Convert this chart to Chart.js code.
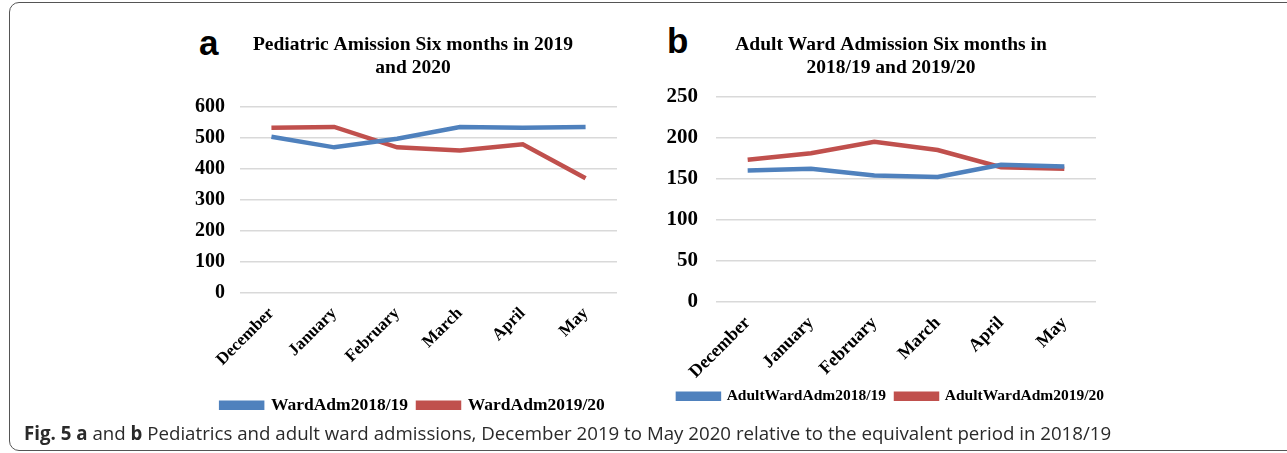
<!DOCTYPE html>
<html>
<head>
<meta charset="utf-8">
<script src="https://cdn.jsdelivr.net/npm/chart.js@4"></script>
<style>
  body { margin: 0; background: #fff; width: 1287px; height: 453px; overflow: hidden; position: relative; }
  .frame { position: absolute; left: 9px; top: 2px; width: 1300px; height: 447px; border: 1px solid #555; border-radius: 10px; }
  .panel { position: absolute; }
  .tag { position: absolute; font-family: "Liberation Sans", Arial, sans-serif; font-weight: bold; font-size: 35px; line-height: 35px; }
  .caption { position: absolute; left: 24px; top: 420px; font-family: "Open Sans", sans-serif; font-size: 18.7px; color: #2a2a2a; white-space: nowrap; }
</style>
</head>
<body>
<div class="frame"></div>
<div class="tag" style="left:199px; top:25px;">a</div>
<div class="tag" style="left:667px; top:23px;">b</div>
<div class="panel" style="left:185px; top:28px; width:456px; height:396px;"><canvas id="chartA"></canvas></div>
<div class="panel" style="left:660px; top:28px; width:462px; height:386px;"><canvas id="chartB"></canvas></div>
<div class="caption"><b>Fig. 5 a</b> and <b>b</b> Pediatrics and adult ward admissions, December 2019 to May 2020 relative to the equivalent period in 2018/19</div>
<script>
const months = ['December', 'January', 'February', 'March', 'April', 'May'];

const pedAdm1819 = [503, 469, 497, 535, 532, 535];
const pedAdm1920 = [532, 535, 469, 459, 479, 369];

const adultAdm1819 = [160, 162, 154, 152, 167, 165];
const adultAdm1920 = [173, 181, 195, 185, 164, 162];

const blue = '#4f81bd';
const red = '#c0504d';
const serif = '"Liberation Serif", "Times New Roman", serif';

function makeChart(id, cfg) {
    return new Chart(document.getElementById(id), {
        type: 'line',
        data: {
            labels: months,
            datasets: [
                { label: cfg.names[0], data: cfg.s1, borderColor: blue, backgroundColor: blue, borderWidth: 4.5, pointRadius: 0, tension: 0 },
                { label: cfg.names[1], data: cfg.s2, borderColor: red, backgroundColor: red, borderWidth: 4.5, pointRadius: 0, tension: 0 }
            ]
        },
        options: {
            responsive: true,
            maintainAspectRatio: false,
            animation: false,
            layout: { padding: 0 },
            plugins: {
                title: {
                    display: true,
                    text: cfg.title,
                    color: '#000',
                    font: { family: serif, size: 19.5, weight: 'bold', lineHeight: 1.2 },
                    padding: { top: 5, bottom: cfg.titleGap }
                },
                legend: {
                    position: 'bottom',
                    labels: {
                        color: '#000',
                        boxWidth: 41,
                        boxHeight: 5,
                        padding: 10,
                        font: { family: serif, size: cfg.legendSize, weight: 'bold' }
                    }
                },
                tooltip: { enabled: false }
            },
            scales: {
                x: {
                    offset: true,
                    grid: { display: false },
                    border: { display: false },
                    ticks: { color: '#000', maxRotation: 45, minRotation: 45, font: { family: serif, size: cfg.xSize, weight: 'bold' } },
                    afterFit: s => { s.height = cfg.xHeight; }
                },
                y: {
                    min: 0, max: cfg.max,
                    grid: { color: '#d9d9d9', lineWidth: 1.5, drawTicks: false },
                    border: { display: false },
                    ticks: { stepSize: cfg.step, color: '#000', padding: cfg.yPad, font: { family: serif, size: cfg.ySize, weight: 'bold' } },
                    afterFit: s => { s.width = cfg.yWidth; }
                },
                // empty strip on the right so the plot ends where the original does
                yRight: {
                    position: 'right',
                    grid: { display: false },
                    border: { display: false },
                    ticks: { display: false },
                    afterFit: s => { s.width = cfg.rightGap; }
                }
            }
        }
    });
}

makeChart('chartA', {
    title: ['Pediatric Amission Six months in 2019', 'and 2020'],
    names: ['WardAdm2018/19', 'WardAdm2019/20'],
    s1: pedAdm1819, s2: pedAdm1920, max: 600, step: 100,
    titleGap: 27, xHeight: 94, yWidth: 55, rightGap: 24, yPad: 15, ySize: 20, xSize: 17, legendSize: 17.5
});
makeChart('chartB', {
    title: ['Adult Ward Admission Six months in', '2018/19 and 2019/20'],
    names: ['AdultWardAdm2018/19', 'AdultWardAdm2019/20'],
    s1: adultAdm1819, s2: adultAdm1920, max: 250, step: 50,
    titleGap: 17, xHeight: 77, yWidth: 56, rightGap: 26, yPad: 18, ySize: 21, xSize: 18, legendSize: 15.5
});
</script>
</body>
</html>
